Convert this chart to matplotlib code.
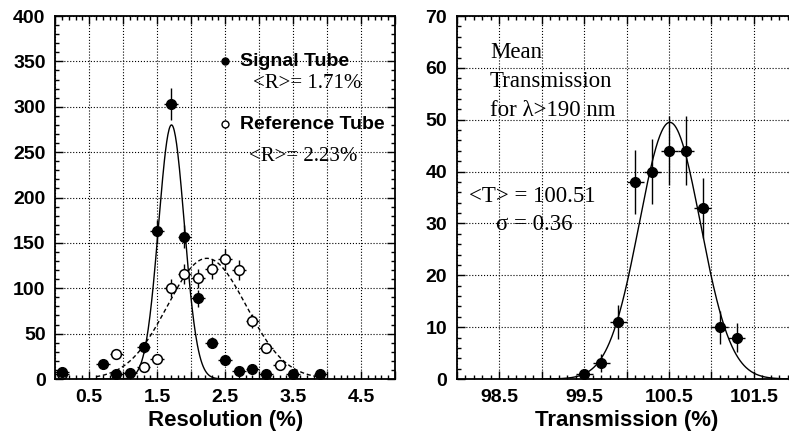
import numpy as np
import matplotlib
matplotlib.use('Agg')
import matplotlib.pyplot as plt
from matplotlib.ticker import MultipleLocator, FuncFormatter

plt.rcParams['font.family'] = ['Liberation Sans', 'DejaVu Sans']

# left panel: resolution histograms
sig_x = [0.1, 0.7, 0.9, 1.1, 1.3, 1.5, 1.7, 1.9, 2.1, 2.3, 2.5, 2.7, 2.9, 3.1, 3.5, 3.9]
sig_y = [8, 16, 6, 7, 35, 163, 303, 157, 89, 40, 21, 9, 11, 5, 6, 5]
ref_x = [0.1, 0.9, 1.3, 1.5, 1.7, 1.9, 2.1, 2.3, 2.5, 2.7, 2.9, 3.1, 3.3]
ref_y = [6, 28, 13, 22, 100, 116, 111, 121, 132, 120, 64, 34, 15]
sig_fit = (280, 1.71, 0.19)   # amplitude, mean, sigma
ref_fit = (133, 2.23, 0.58)

# right panel: transmission histogram
tr_x = [99.5, 99.7, 99.9, 100.1, 100.3, 100.5, 100.7, 100.9, 101.1, 101.3]
tr_y = [1, 3, 11, 38, 40, 44, 44, 33, 10, 8]
tr_fit = (49.5, 100.51, 0.36)

bin_half = 0.1
serif = 'Liberation Serif'


def gauss(x, p):
    a, m, s = p
    return a * np.exp(-0.5 * ((x - m) / s) ** 2)


def half_label(v, pos):
    # labels only on the x.5 grid lines
    if abs((v % 1.0) - 0.5) < 1e-6:
        return f"{v:.1f}"
    return ""


def style_axes(ax, xmaj, xmin, ymaj, ymin):
    ax.xaxis.set_major_locator(MultipleLocator(xmaj))
    ax.xaxis.set_minor_locator(MultipleLocator(xmin))
    ax.yaxis.set_major_locator(MultipleLocator(ymaj))
    ax.yaxis.set_minor_locator(MultipleLocator(ymin))
    ax.xaxis.set_major_formatter(FuncFormatter(half_label))
    ax.tick_params(which='both', direction='in', top=True, right=True, width=1)
    ax.tick_params(which='major', length=6, labelsize=14, pad=7)
    ax.tick_params(which='minor', length=3)
    for lab in ax.get_xticklabels() + ax.get_yticklabels():
        lab.set_fontweight('bold')
    ax.grid(True, which='major', color='black', linestyle=':', linewidth=0.8)
    ax.set_axisbelow(True)
    for sp in ax.spines.values():
        sp.set_linewidth(1.3)


fig = plt.figure(figsize=(7.89, 4.40), dpi=100)
ax1 = fig.add_axes([0.0701, 0.1386, 0.4306, 0.825])
ax2 = fig.add_axes([0.5788, 0.1386, 0.4306, 0.825])

# ---- left ----
xs = np.linspace(0.6, 4.0, 400)
ax1.plot(xs, gauss(xs, sig_fit), color='black', lw=1.0)
ax1.plot(xs, gauss(xs, ref_fit), color='black', lw=1.0, linestyle=(0, (3, 2)))
ax1.errorbar(ref_x, ref_y, xerr=bin_half, yerr=np.sqrt(ref_y), fmt='o', ms=7,
             mfc='white', mec='black', mew=1.1, ecolor='black', elinewidth=1.0, capsize=0)
ax1.errorbar(sig_x, sig_y, xerr=bin_half, yerr=np.sqrt(sig_y), fmt='o', ms=7,
             mfc='black', mec='black', ecolor='black', elinewidth=1.0, capsize=0)
ax1.set_xlim(0, 5)
ax1.set_ylim(0, 400)
style_axes(ax1, 0.5, 0.1, 50, 10)
ax1.set_xlabel('Resolution (%)', fontsize=16, fontweight='bold', labelpad=3)

ax1.plot([2.5], [350], 'o', ms=5, color='black')
ax1.text(2.72, 350, 'Signal Tube', fontsize=14, fontweight='bold', va='center')
ax1.text(2.91, 321, '<R>= 1.71%', fontsize=15, family=serif, va='baseline')
ax1.plot([2.5], [281], 'o', ms=5, mfc='white', mec='black', mew=1.0)
ax1.text(2.72, 281, 'Reference Tube', fontsize=14, fontweight='bold', va='center')
ax1.text(2.85, 240, '<R>= 2.23%', fontsize=15, family=serif, va='baseline')

# ---- right ----
xt = np.linspace(99.0, 102.0, 400)
ax2.plot(xt, gauss(xt, tr_fit), color='black', lw=1.0)
ax2.errorbar(tr_x, tr_y, xerr=bin_half, yerr=np.sqrt(tr_y), fmt='o', ms=7,
             mfc='black', mec='black', ecolor='black', elinewidth=1.0, capsize=0)
ax2.set_xlim(98, 102)
ax2.set_ylim(0, 70)
style_axes(ax2, 0.5, 0.1, 10, 2)
ax2.set_xlabel('Transmission (%)', fontsize=16, fontweight='bold', labelpad=3)

ax2.text(98.39, 61.9, 'Mean', fontsize=16.5, family=serif, va='baseline')
ax2.text(98.39, 56.3, 'Transmission', fontsize=16.5, family=serif, va='baseline')
ax2.text(98.39, 50.7, 'for λ>190 nm', fontsize=16.5, family=serif, va='baseline')
ax2.text(98.15, 34.2, '<T> = 100.51', fontsize=16.5, family=serif, va='baseline')
ax2.text(98.46, 28.7, 'σ = 0.36', fontsize=16.5, family=serif, va='baseline')

fig.savefig('out.png', dpi=100)
